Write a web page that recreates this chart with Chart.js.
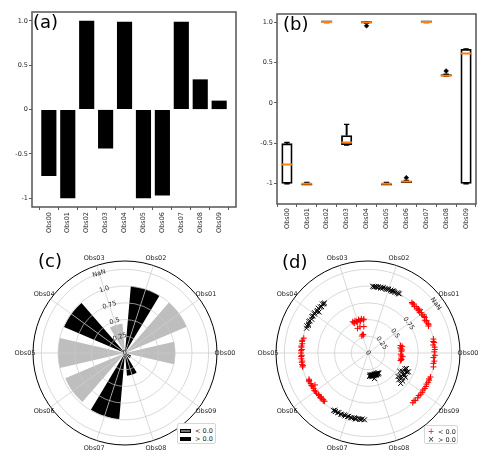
<!DOCTYPE html>
<html>
<head>
<meta charset="utf-8">
<script src="https://cdn.jsdelivr.net/npm/chart.js@4.4.1/dist/chart.umd.min.js"></script>
<style>
  body { margin: 0; background: #fff; font-family: "DejaVu Sans", sans-serif; }
  #page { position: relative; width: 493px; height: 465px; overflow: hidden; background: #fff; }
  canvas, .tag, .legend { position: absolute; }
  .tag { font-size: 18px; line-height: 18px; color: #000; }
  .legend { background: #fff; border: 1px solid #d6d6d6; border-radius: 2px; box-sizing: border-box; color: #262626; }
  .item { position: absolute; left: 2px; height: 7px; display: flex; align-items: center; font-size: 6.5px; white-space: nowrap; }
  .sw { display: inline-block; width: 11px; height: 4px; margin-right: 4px; box-sizing: border-box; border: 0.6px solid #000; }
  .hatch { background-color: #444; background-image: radial-gradient(circle, #ddd 0.5px, transparent 0.8px); background-size: 2px 2px; }
  .solid { background: #000; }
  .mk { display: inline-block; width: 8px; text-align: center; font-weight: normal; font-size: 8px; margin-right: 3px; }
</style>
</head>
<body>
<div id="page">
  <canvas id="barChart" width="245" height="240" style="left:0;top:0"></canvas>
  <canvas id="boxChart" width="248" height="240" style="left:245px;top:0"></canvas>
  <canvas id="polarChart" width="240" height="211" style="left:5px;top:248px"></canvas>
  <canvas id="scatterChart" width="240" height="211" style="left:248px;top:248px"></canvas>

  <div class="tag" style="left:33px;top:13px">(a)</div>
  <div class="tag" style="left:283px;top:15px">(b)</div>
  <div class="tag" style="left:38px;top:252px">(c)</div>
  <div class="tag" style="left:282px;top:253px">(d)</div>

  <div class="legend" style="left:177px;top:423px;width:39px;height:21px">
    <div class="item" style="top:3px"><i class="sw hatch"></i><span>&lt; 0.0</span></div>
    <div class="item" style="top:11px"><i class="sw solid"></i><span>&gt; 0.0</span></div>
  </div>
  <div class="legend" style="left:424px;top:425px;width:34px;height:19px">
    <div class="item" style="top:2px"><b class="mk" style="color:#f00">+</b><span>&lt; 0.0</span></div>
    <div class="item" style="top:10px"><b class="mk">×</b><span>&gt; 0.0</span></div>
  </div>
</div>

<script>
Chart.defaults.font.family = '"DejaVu Sans", sans-serif';
Chart.defaults.font.size = 6.5;
Chart.defaults.color = '#262626';
Chart.defaults.animation = false;
Chart.defaults.plugins.legend.display = false;
Chart.defaults.plugins.tooltip.enabled = false;

// categories and the value of each one (panel a, and the wedges of panel c)
const obsLabels = ['Obs00', 'Obs01', 'Obs02', 'Obs03', 'Obs04', 'Obs05', 'Obs06', 'Obs07', 'Obs08', 'Obs09'];
const obsValues = [-0.75, -1.0, 1.0, -0.44, 0.99, -1.0, -0.97, 0.99, 0.34, 0.10];

// y ticks for panels a and b
const yTicks = [-1, -0.5, 0, 0.5, 1];
const yTickLabels = ['-1', '-0.5', '0', '0.5', '1.0'];

// box plot statistics (panel b)
const boxQ1 = [-1.0, -1.0, 0.995, -0.52, 0.985, -1.0, -0.98, 0.995, 0.33, -1.0];
const boxQ3 = [-0.5, -0.995, 1.0, -0.40, 1.0, -0.995, -0.965, 1.0, 0.35, 0.667];
const boxMed = [-0.76, -1.0, 1.0, -0.49, 0.995, -1.0, -0.972, 1.0, 0.337, 0.612];
const whiskLo = [-1.0, -1.0, 0.995, -0.52, 0.985, -1.0, -0.98, 0.995, 0.33, -1.0];
const whiskHi = [-0.49, -0.985, 1.0, -0.265, 1.0, -0.985, -0.96, 1.0, 0.355, 0.667];
const outliers = [null, null, null, null, 0.954, null, -0.925, null, 0.395, null];

// radial ticks (panels c and d)
const rMax = 1.375;
const rTicks = [0, 0.25, 0.5, 0.75, 1.0, 1.25, 1.375];
const rTickLabels = ['0', '0.25', '0.5', '0.75', '1.0', 'NaN', ''];

// samples of panel d: [angle offset from the category direction (deg), value]
const samples00 = [[11.8,-1.0],[10.2,-0.99],[8.7,-1.0],[6.9,-0.98],[4.8,-1.0],[3.1,-1.0],[0.6,-0.99],[-1.9,-1.0],[-4.2,-0.98],[-6.6,-1.0],[-9.3,-0.99],[-11.7,-1.0],
  [12.6,-0.5],[10.9,-0.52],[9.4,-0.49],[7.3,-0.5],[5.2,-0.51],[2.8,-0.5],[-2.4,-0.49],[-4.7,-0.5],[-6.3,-0.52],[-9.1,-0.5],[-11.2,-0.51],[-13.4,-0.5]];
const samples01 = [[13.1,-1.0],[12.2,-0.99],[10.7,-1.0],[9.3,-0.98],[8.1,-1.0],[6.4,-0.99],[5.2,-1.0],[3.6,-1.0],[2.3,-0.98],[0.7,-1.0],[-0.8,-0.99],[-2.6,-1.0],
  [-3.9,-1.0],[-5.7,-0.98],[-7.2,-1.0],[-8.4,-0.99],[-9.8,-1.0],[-11.3,-1.0],[-12.4,-0.99],[4.4,-0.985]];
const samples02 = [[13.8,1.0],[12.9,0.99],[12.1,1.0],[10.6,1.0],[9.8,0.99],[9.1,1.0],[7.4,1.0],[6.9,0.99],[5.2,1.0],[4.6,1.0],[3.1,1.0],[2.4,0.99],[1.2,1.0],
  [-0.3,1.0],[-1.8,1.0],[-2.6,0.99],[-4.1,1.0],[-5.3,1.0],[-6.2,0.99],[-7.7,1.0],[-8.9,1.0],[-9.8,1.0]];
const samples03 = [[8.2,-0.52],[7.1,-0.5],[5.8,-0.49],[4.9,-0.4],[3.6,-0.52],[2.2,-0.5],[0.9,-0.49],[-0.7,-0.41],[-2.3,-0.52],[-3.8,-0.5],[-5.4,-0.49],
  [-7.1,-0.52],[-8.6,-0.4],[-10.2,-0.5],[-11.1,-0.51],[2.5,-0.27],[-1.5,-0.29],[-4.0,-0.28]];
const samples04 = [[13.6,0.99],[12.3,1.0],[11.2,0.98],[9.7,0.99],[8.4,1.0],[6.8,0.99],[5.1,0.98],[3.3,1.0],[1.9,0.99],[0.4,0.99],[-1.2,1.0],[-2.7,0.98],
  [-4.4,0.99],[-5.9,1.0],[-7.6,0.99],[-9.2,0.98],[-10.5,1.0],[-11.8,0.99],[-13.1,0.99],[-3.5,0.954]];
const samples05 = [[12.3,-1.0],[11.1,-0.99],[9.6,-1.0],[8.2,-1.0],[6.7,-0.99],[5.3,-1.0],[3.4,-1.0],[1.8,-0.99],[0.2,-1.0],[-1.6,-1.0],[-3.1,-0.99],[-4.9,-1.0],
  [-6.4,-1.0],[-8.1,-0.99],[-9.7,-1.0],[-11.2,-1.0],[-12.5,-0.985]];
const samples06 = [[12.4,-0.97],[11.2,-0.98],[9.9,-0.965],[8.3,-0.97],[6.6,-0.98],[5.1,-0.97],[3.7,-0.965],[2.1,-0.975],[0.5,-0.97],[-1.3,-0.98],[-2.9,-0.97],
  [-4.6,-0.965],[-6.2,-0.975],[-7.8,-0.97],[-9.5,-0.98],[-10.9,-0.97],[-12.3,-0.965],[-5.4,-0.925],[7.2,-0.96]];
const samples07 = [[14.6,1.0],[13.4,0.99],[12.1,1.0],[10.8,1.0],[9.7,0.99],[8.2,1.0],[6.9,1.0],[5.6,0.99],[4.1,1.0],[2.7,1.0],[1.3,0.99],[-0.2,1.0],[-1.7,1.0],
  [-3.2,0.99],[-4.8,1.0],[-6.1,1.0],[-7.7,0.99],[-9.2,1.0],[-10.6,1.0],[-11.9,0.99],[-13.2,1.0]];
const samples08 = [[9.8,0.34],[8.6,0.33],[7.7,0.35],[6.3,0.34],[5.4,0.33],[4.2,0.345],[3.1,0.34],[2.3,0.35],[1.1,0.33],[0.2,0.34],[-0.9,0.345],[-1.8,0.33],
  [-2.9,0.35],[-3.7,0.34],[-4.8,0.33],[-5.9,0.345],[-6.7,0.34],[-7.8,0.35],[-8.9,0.33],[-9.6,0.34],[-10.8,0.345],[-11.9,0.33],[-12.7,0.34],[-13.6,0.35],
  [-4.1,0.395],[-8.2,0.36]];
const samples09 = [[14.7,-1.0],[13.2,-0.99],[11.8,-1.0],[9.9,-1.0],[8.4,-0.99],[6.1,-1.0],[4.3,-1.0],[2.2,-0.99],[0.4,-1.0],[-1.9,-1.0],[-4.1,-0.99],[-6.3,-1.0],
  [-8.6,-1.0],[-10.4,-0.99],[-12.1,-1.0],
  [14.2,0.62],[12.8,0.6],[11.1,0.667],[9.6,0.61],[8.3,0.58],[6.2,0.55],[4.7,0.64],[2.9,0.667],[0.8,0.6],[-1.3,0.63],[-3.4,0.667],[-4.9,0.61],[-6.8,0.667],
  [-2.2,0.57],[5.5,0.62],[10.2,0.65]];
const allSamples = [samples00, samples01, samples02, samples03, samples04, samples05, samples06, samples07, samples08, samples09];

const negColor = '#bebebe';
const posColor = '#000';
const gridColor = '#c8c8c8';

// outline round the plot area of the cartesian panels
const framePlugin = {
  id: 'frame',
  afterDraw(chart) {
    const {ctx, chartArea: a} = chart;
    ctx.save();
    ctx.strokeStyle = '#555';
    ctx.lineWidth = 1.5;
    ctx.strokeRect(a.left, a.top, a.right - a.left, a.bottom - a.top);
    ctx.restore();
  }
};

// category names at the end of each spoke of the polar panels
const spokeLabels = {
  id: 'spokeLabels',
  afterDraw(chart) {
    const r = chart.scales.r;
    const ctx = chart.ctx;
    ctx.save();
    ctx.font = '6.5px "DejaVu Sans"';
    ctx.fillStyle = '#262626';
    ctx.textAlign = 'center';
    ctx.textBaseline = 'middle';
    chart.data.labels.forEach((label, i) => {
      if (!label) return;
      const p = r.getPointPosition(i, r.drawingArea + 8);
      ctx.fillText(label, p.x, p.y);
    });
    ctx.restore();
  }
};

const tickGrid = {drawOnChartArea: false, tickLength: 3, color: '#333', lineWidth: 0.8};

// (a) bars
new Chart(document.getElementById('barChart'), {
  type: 'bar',
  data: {
    datasets: [{
      data: obsValues.map((v, i) => ({x: i, y: v})),
      backgroundColor: '#000',
      barPercentage: 0.8,
      categoryPercentage: 1
    }]
  },
  options: {
    responsive: false,
    layout: {padding: {top: 12, right: 9}},
    plugins: {colors: {enabled: false}},
    scales: {
      x: {
        type: 'linear', min: -0.89, max: 9.89, offset: false,
        afterBuildTicks: s => { s.ticks = obsLabels.map((_, i) => ({value: i})); },
        afterFit: s => { s.height = 33; },
        ticks: {autoSkip: false, minRotation: 90, maxRotation: 90, padding: 2, callback: v => obsLabels[v]},
        grid: tickGrid,
        border: {display: false}
      },
      y: {
        min: -1.1, max: 1.1,
        afterBuildTicks: s => { s.ticks = yTicks.map(v => ({value: v})); },
        afterFit: s => { s.width = 32; },
        ticks: {padding: 1, callback: (v, i) => yTickLabels[i]},
        grid: tickGrid,
        border: {display: false}
      }
    }
  },
  plugins: [framePlugin]
});

// (b) box plots
const pointLine = (data, radius, width, color, order) => ({
  type: 'line', data, showLine: false, order,
  pointStyle: 'line', pointRadius: radius, pointBorderWidth: width,
  pointBorderColor: color, borderColor: color, backgroundColor: color
});

new Chart(document.getElementById('boxChart'), {
  type: 'bar',
  data: {
    labels: obsLabels,
    datasets: [
      pointLine(boxMed, 5.3, 2, '#ff7f0e', 0),
      {
        type: 'line', data: outliers, showLine: false, order: 1,
        pointStyle: 'rectRot', pointRadius: 2.4, pointBorderWidth: 0.5,
        pointBackgroundColor: '#000', pointBorderColor: '#000', borderColor: '#000', backgroundColor: '#000'
      },
      pointLine(whiskHi, 2.7, 1.4, '#000', 2),
      pointLine(whiskLo, 2.7, 1.4, '#000', 2),
      {
        data: obsLabels.map((_, i) => [boxQ1[i], boxQ3[i]]),
        backgroundColor: 'rgba(255,255,255,0)', borderColor: '#000', borderWidth: 1.8,
        borderSkipped: false, minBarLength: 2, barPercentage: 0.56, categoryPercentage: 1,
        grouped: false, order: 3
      },
      {
        data: obsLabels.map((_, i) => [boxQ3[i], whiskHi[i]]),
        backgroundColor: '#000', barThickness: 1.3, grouped: false, order: 4
      },
      {
        data: obsLabels.map((_, i) => [whiskLo[i], boxQ1[i]]),
        backgroundColor: '#000', barThickness: 1.3, grouped: false, order: 4
      }
    ]
  },
  options: {
    responsive: false,
    layout: {padding: {top: 14, right: 17}},
    plugins: {colors: {enabled: false}},
    scales: {
      x: {
        afterFit: s => { s.height = 36; },
        ticks: {autoSkip: false, minRotation: 90, maxRotation: 90, padding: 1},
        grid: tickGrid,
        border: {display: false}
      },
      y: {
        min: -1.25, max: 1.1,
        afterBuildTicks: s => { s.ticks = yTicks.map(v => ({value: v})); },
        afterFit: s => { s.width = 32; },
        ticks: {padding: 1, callback: (v, i) => yTickLabels[i]},
        grid: tickGrid,
        border: {display: false}
      }
    }
  },
  plugins: [framePlugin]
});

// shared radial axis of panels c and d
function radialAxis(startAngle, z) {
  return {
    min: 0, max: rMax, startAngle,
    // the leading copy of rMax only takes the slot the library never draws
    afterBuildTicks: s => { s.ticks = [rMax, ...rTicks].map(v => ({value: v})); },
    ticks: {
      z, color: '#262626', font: {size: 6.5}, showLabelBackdrop: false, backdropPadding: 0,
      callback: (v, i) => i === 0 ? '' : rTickLabels[i - 1]
    },
    grid: {
      z, circular: true,
      color: c => c.tick && c.tick.value === rMax ? '#000' : gridColor,
      lineWidth: c => !c.tick || c.tick.value === 0 ? 0 : (c.tick.value === rMax ? 1 : 0.7)
    },
    angleLines: {display: true, color: gridColor, lineWidth: c => c.label ? 0.7 : 0},
    pointLabels: {display: false}
  };
}

// (c) polar bars: each wedge is split in two halves around its spoke
const polarOrder = [3, 2, 1, 0, 9, 8, 7, 6, 5, 4];
const stepDeg = 360 / obsLabels.length;
const wedgeDeg = 26;
const segValues = [];
const segColors = [];
const segAngles = [];
polarOrder.forEach((m, j) => {
  const next = polarOrder[(j + 1) % polarOrder.length];
  segValues.push(Math.abs(obsValues[m]), 0, Math.abs(obsValues[next]));
  segColors.push(obsValues[m] < 0 ? negColor : posColor, 'rgba(0,0,0,0)', obsValues[next] < 0 ? negColor : posColor);
  segAngles.push(wedgeDeg / 2, stepDeg - wedgeDeg, wedgeDeg / 2);
});

new Chart(document.getElementById('polarChart'), {
  type: 'polarArea',
  data: {
    labels: polarOrder.map(m => obsLabels[m]),
    datasets: [{
      data: segValues,
      backgroundColor: segColors,
      borderWidth: 0,
      angle: c => segAngles[c.dataIndex]
    }]
  },
  options: {
    responsive: false,
    layout: {padding: {top: 10, bottom: 10}},
    plugins: {colors: {enabled: false}},
    scales: {r: radialAxis(-18, 1)}
  },
  plugins: [spokeLabels]
});

// (d) samples on a one-degree angular grid
const angleSlots = 360;
const dStart = 54;
const slotFor = deg => (((Math.round(90 - dStart - deg)) % angleSlots) + angleSlots) % angleSlots;
const dLabels = new Array(angleSlots).fill('');
obsLabels.forEach((l, m) => { dLabels[slotFor(m * stepDeg)] = l; });

const negLayers = [];
const posLayers = [];
allSamples.forEach((list, m) => {
  list.forEach(([off, v]) => {
    const slot = slotFor(m * stepDeg + off);
    const layers = v < 0 ? negLayers : posLayers;
    let layer = layers.find(a => a[slot] === null);
    if (!layer) {
      layer = new Array(angleSlots).fill(null);
      layers.push(layer);
    }
    layer[slot] = Math.abs(v);
  });
});

const markerSet = (data, style, color, radius) => ({
  data, showLine: false, fill: false,
  pointStyle: style, pointRadius: radius, pointBorderWidth: 1,
  pointBorderColor: color, pointBackgroundColor: color,
  borderColor: color, backgroundColor: color
});

new Chart(document.getElementById('scatterChart'), {
  type: 'radar',
  data: {
    labels: dLabels,
    datasets: [
      ...negLayers.map(d => markerSet(d, 'cross', '#ff0000', 3)),
      ...posLayers.map(d => markerSet(d, 'crossRot', '#000', 3.5))
    ]
  },
  options: {
    responsive: false,
    layout: {padding: {top: 10, bottom: 10}},
    plugins: {colors: {enabled: false}},
    scales: {r: radialAxis(dStart, 0)}
  },
  plugins: [spokeLabels]
});
</script>
</body>
</html>
